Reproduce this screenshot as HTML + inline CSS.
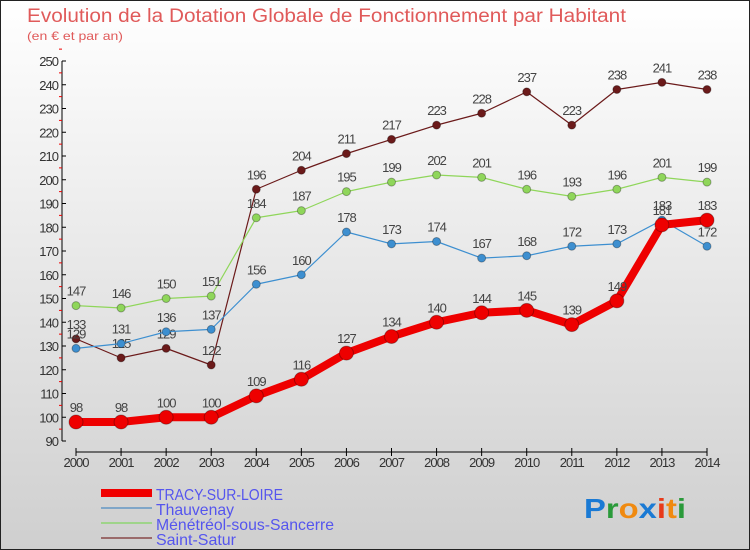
<!DOCTYPE html>
<html><head><meta charset="utf-8"><style>
body{margin:0;width:750px;height:550px;overflow:hidden;font-family:"Liberation Sans",sans-serif}
#wrap{position:relative;width:748px;height:548px;border:1px solid #222;background:linear-gradient(#ffffff,#cfcfcf)}
</style></head><body>
<div id="wrap">
<svg id="chart" width="748" height="548" style="position:absolute;left:0;top:0">
<text x="26" y="21" font-size="19" fill="#e05a5a" textLength="599" lengthAdjust="spacingAndGlyphs">Evolution de la Dotation Globale de Fonctionnement par Habitant</text>
<text x="26" y="39" font-size="12" fill="#e05a5a" textLength="96" lengthAdjust="spacingAndGlyphs">(en € et par an)</text>
<g id="axes"></g><g id="series"></g>
<g>
<rect x="100" y="488" width="51" height="8" fill="#f00000"/>
<text x="155" y="499" font-size="16" fill="#5555ee" textLength="127" lengthAdjust="spacingAndGlyphs">TRACY-SUR-LOIRE</text>
<rect x="100" y="506" width="51" height="2" fill="#7fa6c8"/>
<text x="155" y="514" font-size="16" fill="#5555ee" textLength="78" lengthAdjust="spacingAndGlyphs">Thauvenay</text>
<rect x="100" y="521" width="51" height="2" fill="#9fd48a"/>
<text x="155" y="529" font-size="16" fill="#5555ee" textLength="178" lengthAdjust="spacingAndGlyphs">Ménétréol-sous-Sancerre</text>
<rect x="100" y="536" width="51" height="2" fill="#9a6a6a"/>
<text x="155" y="544" font-size="16" fill="#5555ee" textLength="80" lengthAdjust="spacingAndGlyphs">Saint-Satur</text>
</g>
<g font-size="28" font-weight="bold">
<text x="583" y="517" textLength="102" lengthAdjust="spacingAndGlyphs"><tspan fill="#1a7ad4">P</tspan><tspan fill="#2a9a3a">r</tspan><tspan fill="#f08a10">o</tspan><tspan fill="#1a7ad4">x</tspan><tspan fill="#e83a1a">i</tspan><tspan fill="#f08a10">t</tspan><tspan fill="#2a9a3a">i</tspan></text>
</g>
</svg>
</div>
<script>
const years=[2000,2001,2002,2003,2004,2005,2006,2007,2008,2009,2010,2011,2012,2013,2014];
const tracy=[98,98,100,100,109,116,127,134,140,144,145,139,149,181,183];
const thauvenay=[129,131,136,137,156,160,178,173,174,167,168,172,173,183,172];
const menetreol=[147,146,150,151,184,187,195,199,202,201,196,193,196,201,199];
const saintSatur=[133,125,129,122,196,204,211,217,223,228,237,223,238,241,238];
const yTicks=[90,100,110,120,130,140,150,160,170,180,190,200,210,220,230,240,250];
const NS="http://www.w3.org/2000/svg";
const x=i=>75+i*(706-75)/(years.length-1);
const y=v=>440-(v-90)*(380/160);
function mk(t,a,p){const e=document.createElementNS(NS,t);for(const k in a)e.setAttribute(k,a[k]);p.appendChild(e);return e;}
const ax=document.getElementById('axes');
const yl=mk('line',{x1:61,y1:y(250),x2:61,y2:y(90),stroke:'#000'},ax);


yTicks.forEach(v=>{
  mk('line',{x1:61,y1:y(v),x2:65,y2:y(v),stroke:'#000'},ax);
  mk('line',{x1:58,y1:y(v+5),x2:61,y2:y(v+5),stroke:'#e00'},ax);
  const t=mk('text',{x:57,y:y(v)+5,'text-anchor':'end','font-size':13,fill:'#333','letter-spacing':'-1'},ax);
  t.textContent=v;
  
  
});
const xl=mk('line',{x1:x(0),y1:451,x2:x(14),y2:451,stroke:'#000'},ax);


years.forEach((yr,i)=>{
  mk('line',{x1:x(i),y1:447,x2:x(i),y2:455,stroke:'#000'},ax);
  const t=mk('text',{x:x(i),y:466,'text-anchor':'middle','font-size':13,fill:'#333','letter-spacing':'-1'},ax);
  t.textContent=yr;
  
  
});
const sg=document.getElementById('series');
function draw(data,color,w,r,name){
  const g=mk('g',{},sg);
  
  
  const pl=mk('polyline',{points:data.map((v,i)=>x(i)+','+y(v)).join(' '),fill:'none',stroke:color,'stroke-width':w,'stroke-linejoin':'round'},g);
  
  
  data.forEach((v,i)=>{
    const c=mk('circle',{cx:x(i),cy:y(v),r:r,fill:color,stroke:'rgba(0,0,0,0.3)'},g);
    
    
    const t=mk('text',{x:x(i),y:y(v)-10,'text-anchor':'middle','font-size':13,fill:'#444','letter-spacing':'-1'},g);
    t.textContent=v;
    
    
  });
}
draw(saintSatur,'#6b1a1a',1.2,4,'saint-satur');
draw(menetreol,'#8fd65a',1.2,4,'menetreol');
draw(thauvenay,'#3d8fd0',1.2,4,'thauvenay');
draw(tracy,'#ee0000',8,7,'tracy');
</script>
</body></html>
